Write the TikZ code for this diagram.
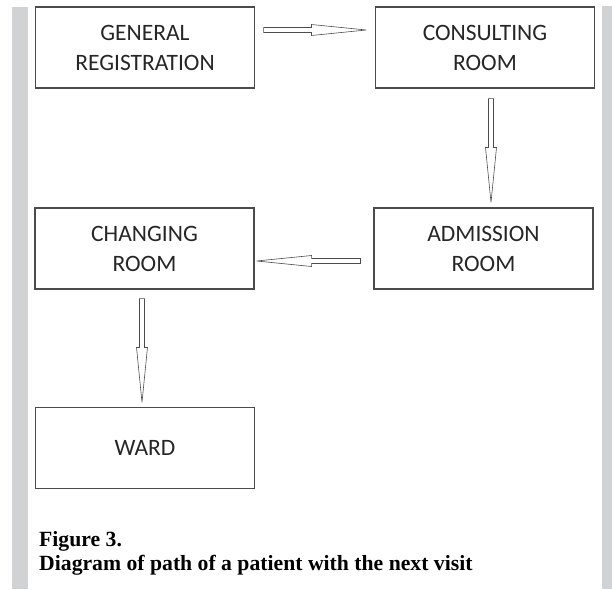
\documentclass[tikz,border=0pt]{standalone}
\usepackage{fontspec}
\usepackage{tikz}
\usetikzlibrary{calc}

\newfontfamily\boxfont{Carlito}
\newfontfamily\capfont{Liberation Serif}
\definecolor{bargray}{RGB}{209,210,212}
\definecolor{edgegray}{RGB}{75,75,75}

\tikzset{
  room/.style={draw=edgegray, line width=1.1pt, minimum width=219pt, minimum height=81pt,
    inner sep=0pt, align=center, text=black!85, font=\boxfont\fontsize{23.5}{30}\selectfont},
  hollow/.style={draw=black!70, line width=0.6pt, line join=miter, to path={
    let \p1=(\tikztostart), \p2=(\tikztotarget),
        \n1={atan2(\y2-\y1,\x2-\x1)}, \n2={veclen(\x2-\x1,\y2-\y1)} in
    {[shift={(\p1)}, rotate=\n1]
      (0pt,-2.5pt) -- ({\n2*1pt-55pt},-2.5pt) -- ({\n2*1pt-55pt},-5.5pt) -- ({\n2*1pt},0pt)
      -- ({\n2*1pt-55pt},5.5pt) -- ({\n2*1pt-55pt},2.5pt) -- (0pt,2.5pt) -- cycle}
  }},
  caption/.style={anchor=base west, inner sep=0pt, font=\capfont\bfseries\fontsize{21.7}{24}\selectfont}
}

\begin{document}
\begin{tikzpicture}[x=1pt, y=1pt]
    \useasboundingbox (0,0) rectangle (612,-589);

    % 两侧灰色竖条
    \fill[bargray] (12,-7) rectangle (28,-589);
    \fill[bargray] (602,-6) rectangle (612,-589);

    % 各个房间
    \node[room] (gen) at (145,-47.5) {GENERAL\\REGISTRATION};
    \node[room] (cons) at (485,-47.5) {CONSULTING\\ROOM};
    \node[room] (adm) at (483.5,-248.5) {ADMISSION\\ROOM};
    \node[room] (chg) at (144.5,-248.5) {CHANGING\\ROOM};
    \node[room] (ward) at (145,-448) {WARD};

    % 空心箭头
    \draw[hollow] ([shift={(8.5,17.5)}]gen.east) to ([shift={(-8.5,17.5)}]cons.west);
    \draw[hollow] ([shift={(6,-10)}]cons.south) to ([shift={(7.5,5)}]adm.north);
    \draw[hollow] ([shift={(-13,-12.5)}]adm.west) to ([shift={(2,-12.5)}]chg.east);
    \draw[hollow] ([shift={(-2.5,-9)}]chg.south) to ([shift={(-3,4.5)}]ward.north);

    % 图题
    \node[caption] (fig) at (39,-546) {Figure 3.};
    \node[caption] (title) at (39,-570) {Diagram of path of a patient with the next visit};
  \end{tikzpicture}
\end{document}
